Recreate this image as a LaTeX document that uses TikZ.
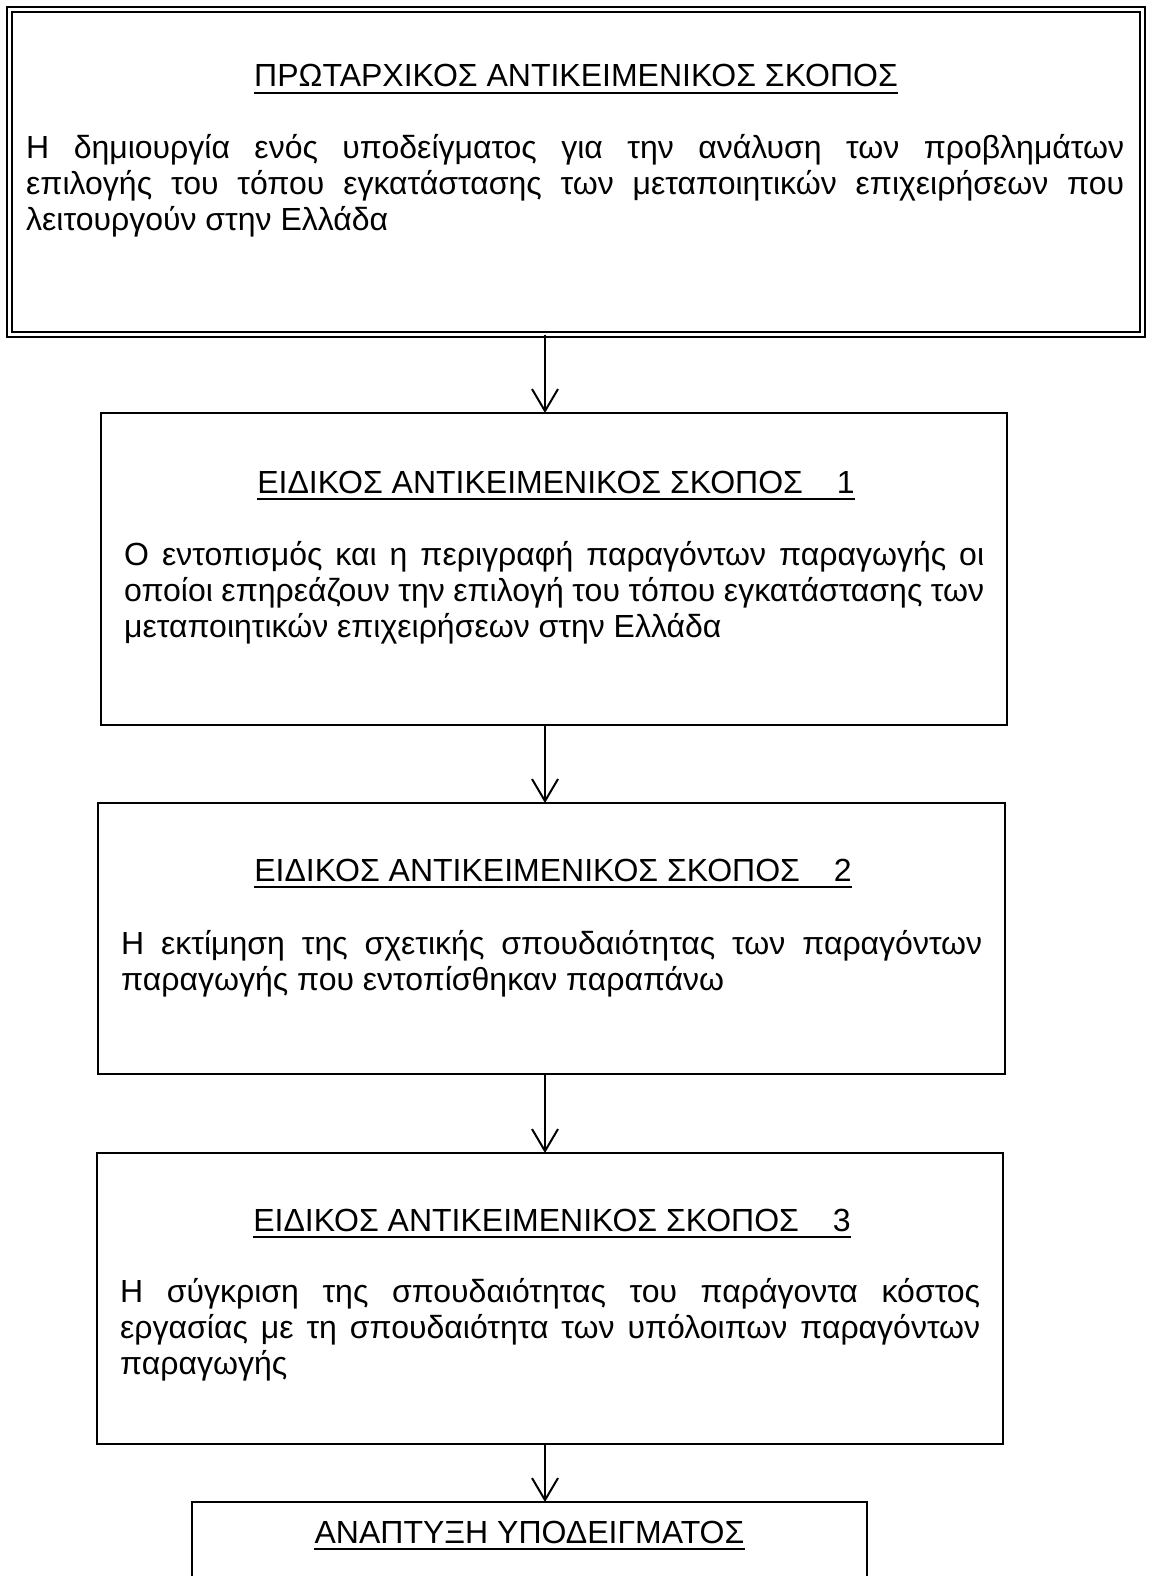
\documentclass[tikz,border=0pt]{standalone}
\usepackage{fontspec}
\setmainfont{Liberation Sans}
\usetikzlibrary{arrows.meta}
\begin{document}
\begin{tikzpicture}[x=1pt,y=-1pt,
  box/.style={draw, line width=2pt, anchor=north west, inner sep=0pt, outer sep=0pt},
  ttl/.style={anchor=base, inner sep=0pt, font={\fontsize{32}{36}\selectfont}},
  body/.style={anchor=base west, inner sep=0pt, align=justify, font={\fontsize{32}{36}\selectfont}},
  arr/.style={line width=2pt, -{Straight Barb[length=22pt,width=26pt]}},
  ul/.style={line width=2.4pt}]
\useasboundingbox (0,0) rectangle (1149,1576);
\clip (0,0) rectangle (1149,1576);
\coordinate (ax) at (545,0);
% boxes
\node[box, double, double distance=2.5pt, minimum width=1133pt, minimum height=325pt] (b0) at (9.5,9.5) {};
\node[box, minimum width=906pt, minimum height=312pt] (b1) at (101,413) {};
\node[box, minimum width=907pt, minimum height=271pt] (b2) at (98,803) {};
\node[box, minimum width=906pt, minimum height=291pt] (b3) at (97,1153) {};
\node[box, minimum width=675pt, minimum height=200pt] (b4) at (192,1502) {};
% titles
\node[ttl] (t0) at (576,87) {ΠΡΩΤΑΡΧΙΚΟΣ ΑΝΤΙΚΕΙΜΕΝΙΚΟΣ ΣΚΟΠΟΣ};
\node[ttl] (t1) at (556,493) {ΕΙΔΙΚΟΣ ΑΝΤΙΚΕΙΜΕΝΙΚΟΣ ΣΚΟΠΟΣ\hspace{34pt}1};
\node[ttl] (t2) at (553,881) {ΕΙΔΙΚΟΣ ΑΝΤΙΚΕΙΜΕΝΙΚΟΣ ΣΚΟΠΟΣ\hspace{34pt}2};
\node[ttl] (t3) at (552,1231) {ΕΙΔΙΚΟΣ ΑΝΤΙΚΕΙΜΕΝΙΚΟΣ ΣΚΟΠΟΣ\hspace{34pt}3};
\node[ttl] (t4) at (529.5,1543) {ΑΝΑΠΤΥΞΗ ΥΠΟΔΕΙΓΜΑΤΟΣ};
\foreach \t in {t0,t1,t2,t3,t4}
  \draw[ul] ([yshift=-6pt]\t.base west) -- ([yshift=-6pt]\t.base east);
% bodies
\node[body, text width=1098pt] (p0) at (26,158) {\hyphenpenalty=10000 Η δημιουργία ενός υποδείγματος για την ανάλυση των προβλημάτων\linebreak επιλογής του τόπου εγκατάστασης των μεταποιητικών επιχειρήσεων που\linebreak λειτουργούν στην Ελλάδα};
\node[body, text width=860pt] (p1) at (124,565) {\hyphenpenalty=10000 Ο εντοπισμός και η περιγραφή παραγόντων παραγωγής οι\linebreak οποίοι επηρεάζουν την επιλογή του τόπου εγκατάστασης των\linebreak μεταποιητικών επιχειρήσεων στην Ελλάδα};
\node[body, text width=861pt] (p2) at (121,954) {\hyphenpenalty=10000 Η εκτίμηση της σχετικής σπουδαιότητας των παραγόντων\linebreak παραγωγής που εντοπίσθηκαν παραπάνω};
\node[body, text width=860pt] (p3) at (120,1302) {\hyphenpenalty=10000 Η σύγκριση της σπουδαιότητας του παράγοντα κόστος\linebreak εργασίας με τη σπουδαιότητα των υπόλοιπων παραγόντων\linebreak παραγωγής};
% arrows
\draw[arr] (b0.south -| ax) -- (b1.north -| ax);
\draw[arr] (b1.south -| ax) -- (b2.north -| ax);
\draw[arr] (b2.south -| ax) -- (b3.north -| ax);
\draw[arr] (b3.south -| ax) -- (b4.north -| ax);
\end{tikzpicture}
\end{document}
